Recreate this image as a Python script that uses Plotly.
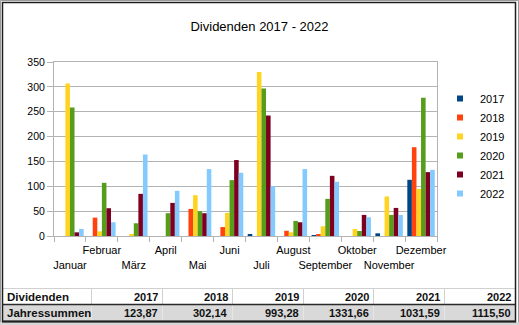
import plotly.graph_objects as go

# Monthly dividends per year
months = ["Januar", "Februar", "März", "April", "Mai", "Juni", "Juli",
          "August", "September", "Oktober", "November", "Dezember"]
years = ["2017", "2018", "2019", "2020", "2021", "2022"]

d2017 = [0, 0, 0, 0, 0, 0, 3.40, 0, 2.00, 0, 5.40, 113.07]
d2018 = [0, 37.00, 0, 0, 54.50, 18.00, 0, 10.50, 3.50, 0, 0, 178.64]
d2019 = [307.00, 9.40, 3.40, 0, 82.10, 46.40, 330.00, 7.40, 19.50, 14.10, 79.50, 94.48]
d2020 = [258.50, 107.00, 25.60, 45.80, 49.80, 112.40, 296.80, 30.30, 74.70, 10.10, 42.40, 278.26]
d2021 = [7.40, 55.90, 84.80, 66.60, 45.80, 152.80, 242.30, 27.60, 121.00, 42.40, 56.50, 128.49]
d2022 = [14.10, 27.60, 164.00, 90.90, 134.60, 127.20, 100.30, 134.60, 109.00, 37.70, 42.40, 133.10]

series = [d2017, d2018, d2019, d2020, d2021, d2022]
colors = ["#004586", "#ff420e", "#ffd320", "#579d1c", "#7e0021", "#83caff"]

y_ticks = [0, 50, 100, 150, 200, 250, 300, 350]

W, H = 519, 325
FONT = "Liberation Sans, Arial, sans-serif"


def px(x):
    return x / W


def py(y):
    return 1 - y / H


# staggered month labels: every other month drops to a second line
tick_text = [("<br>" + m) if i % 2 == 0 else m for i, m in enumerate(months)]

fig = go.Figure()
for name, vals, col in zip(years, series, colors):
    fig.add_trace(go.Bar(x=months, y=vals, name=name, marker=dict(color=col, line=dict(width=0)),
                         showlegend=False))
    fig.add_trace(go.Scatter(x=[None], y=[None], mode="markers", name=name,
                             marker=dict(symbol="square", size=6, color=col)))

fig.update_layout(
    width=W, height=H,
    template="none",
    margin=dict(l=0, r=0, t=0, b=0, autoexpand=False),
    paper_bgcolor="white", plot_bgcolor="white",
    font=dict(family=FONT, size=11, color="#000000"),
    barmode="group", bargap=0.14, bargroupgap=0,
    title=dict(text="Dividenden 2017 - 2022", x=0.5, xanchor="center", y=py(26), yanchor="middle",
               font=dict(family=FONT, size=13, color="#000000")),
    xaxis=dict(domain=[px(54), px(437)], type="category", categoryarray=months,
               tickmode="array", tickvals=months, ticktext=tick_text, tickangle=0,
               tickson="boundaries", ticks="outside", ticklen=5, tickcolor="#b3b3b3",
               ticklabelstandoff=4,
               showline=True, linecolor="#b3b3b3", linewidth=1, mirror=True,
               showgrid=False, automargin=False, fixedrange=True,
               tickfont=dict(size=11, color="#000000")),
    yaxis=dict(domain=[py(236), py(62)], range=[0, 350], tickmode="array", tickvals=y_ticks,
               ticks="outside", ticklen=6, tickcolor="#b3b3b3",
               showline=True, linecolor="#b3b3b3", linewidth=1, mirror=True,
               showgrid=True, gridcolor="#b3b3b3", gridwidth=1, zeroline=False,
               automargin=False, fixedrange=True,
               tickfont=dict(size=10.5, color="#000000")),
    legend=dict(x=px(440), xanchor="left", y=py(146), yanchor="middle",
                font=dict(size=11, color="#000000"), bgcolor="rgba(0,0,0,0)",
                borderwidth=0, tracegroupgap=0),
)

shapes = []
# outer frame
shapes.append(dict(type="rect", xref="paper", yref="paper", x0=px(0.5), x1=px(518.5), y0=py(0.5), y1=py(324.5),
                   line=dict(color="#9a9a9a", width=1), fillcolor="rgba(0,0,0,0)", layer="below"))
shapes.append(dict(type="rect", xref="paper", yref="paper", x0=px(0), x1=px(519), y0=py(322), y1=py(325),
                   line=dict(width=0), fillcolor="#d6d6d6", layer="below"))

# table
cols = [3, 91, 162, 232, 303, 373, 444, 515]
shapes.append(dict(type="rect", xref="paper", yref="paper", x0=px(3), x1=px(515), y0=py(305), y1=py(321),
                   line=dict(width=0), fillcolor="#d9d9d9", layer="below"))
shapes.append(dict(type="line", xref="paper", yref="paper", x0=px(3), x1=px(515), y0=py(288.5), y1=py(288.5),
                   line=dict(color="#d0d0d0", width=1)))
for c in cols[1:-1]:
    shapes.append(dict(type="line", xref="paper", yref="paper", x0=px(c + 0.5), x1=px(c + 0.5),
                       y0=py(289), y1=py(304), line=dict(color="#d0d0d0", width=1)))
    shapes.append(dict(type="line", xref="paper", yref="paper", x0=px(c + 0.5), x1=px(c + 0.5),
                       y0=py(305), y1=py(321), line=dict(color="#e6e6e6", width=1)))
shapes.append(dict(type="line", xref="paper", yref="paper", x0=px(3), x1=px(515), y0=py(304.5), y1=py(304.5),
                   line=dict(color="#2a2a2a", width=1.5)))
shapes.append(dict(type="line", xref="paper", yref="paper", x0=px(2), x1=px(516), y0=py(321.5), y1=py(321.5),
                   line=dict(color="#2a2a2a", width=2)))
# chart frame (shared with the table)
shapes.append(dict(type="rect", xref="paper", yref="paper", x0=px(2.5), x1=px(515.5), y0=py(321.5), y1=py(2.5),
                   line=dict(color="#1e1e1e", width=1.5), fillcolor="rgba(0,0,0,0)"))
fig.update_layout(shapes=shapes)

annotations = []
annotations.append(dict(text="<b>Dividenden</b>", x=px(5), y=py(296.5), xref="paper", yref="paper",
                        xanchor="left", yanchor="middle", showarrow=False, font=dict(size=11.5, color="#111")))
annotations.append(dict(text="<b>Jahressummen</b>", x=px(5), y=py(313), xref="paper", yref="paper",
                        xanchor="left", yanchor="middle", showarrow=False, font=dict(size=11.5, color="#111")))
for i, (name, vals) in enumerate(zip(years, series)):
    right = cols[i + 2] - 2
    total = f"{round(sum(vals), 2):.2f}".replace(".", ",")
    annotations.append(dict(text=f"<b>{name}</b>", x=px(right), y=py(296.5), xref="paper", yref="paper",
                            xanchor="right", yanchor="middle", showarrow=False, font=dict(size=11, color="#111")))
    annotations.append(dict(text=f"<b>{total}</b>", x=px(right), y=py(313), xref="paper", yref="paper",
                            xanchor="right", yanchor="middle", showarrow=False, font=dict(size=11, color="#111")))
fig.update_layout(annotations=annotations)

fig.write_html("out.html")
